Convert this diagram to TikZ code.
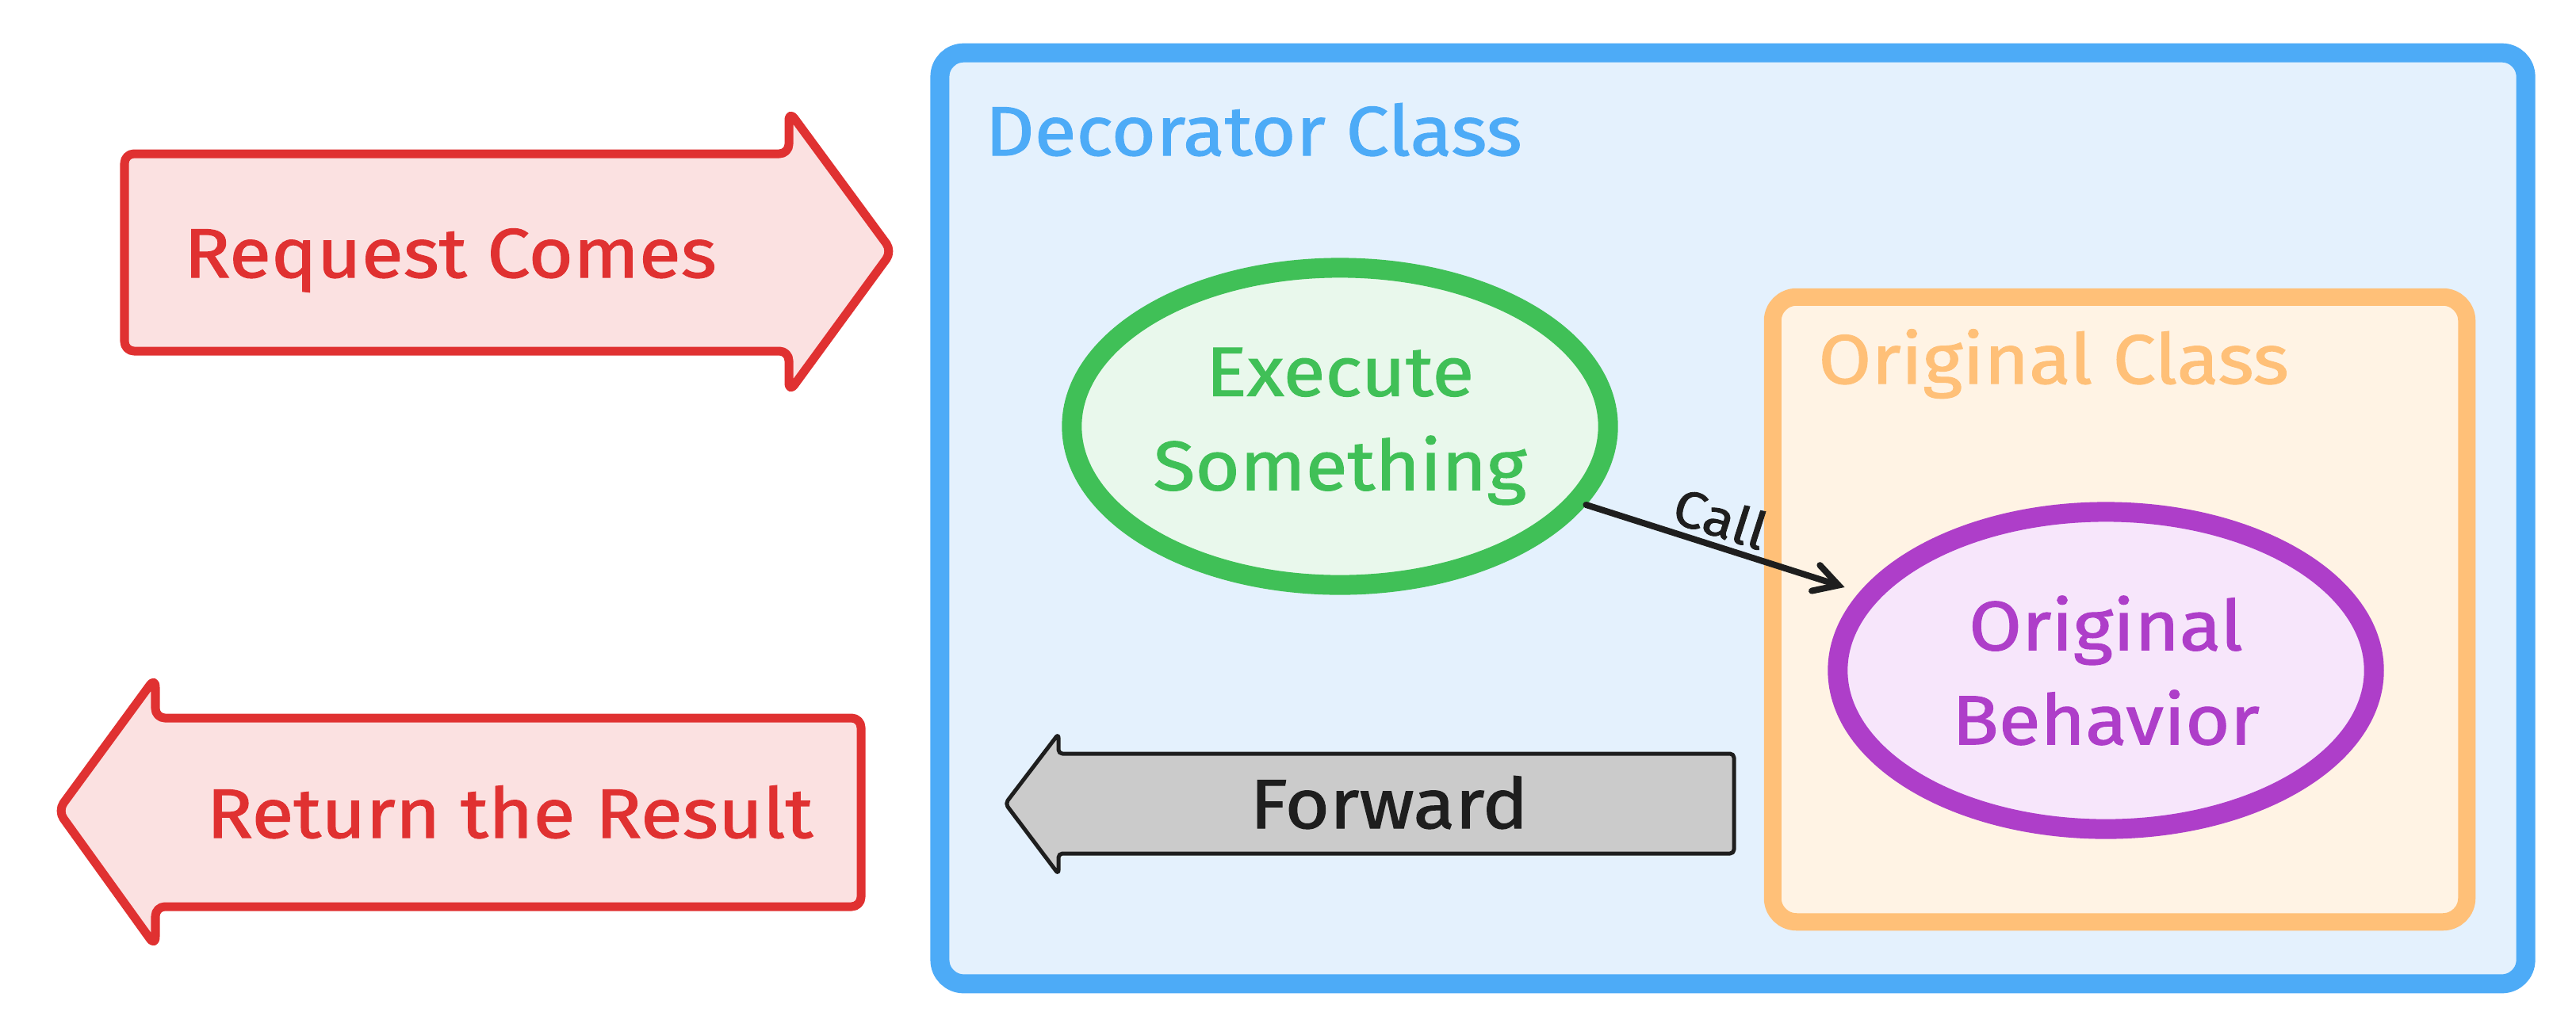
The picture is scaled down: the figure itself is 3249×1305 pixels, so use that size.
\documentclass[tikz,border=0pt]{standalone}
\usepackage{fontspec}
\setmainfont{Fira Sans}[UprightFeatures={FakeBold=1.3}, FakeStretch=1.1]
\usetikzlibrary{shapes.geometric,arrows.meta}

\definecolor{decoblue}{HTML}{4DABF7}
\definecolor{decofill}{HTML}{E4F1FD}
\definecolor{origorange}{HTML}{FFC078}
\definecolor{origfill}{HTML}{FFF3E4}
\definecolor{execgreen}{HTML}{40C057}
\definecolor{execfill}{HTML}{E9F8EC}
\definecolor{behpurple}{HTML}{AE3EC9}
\definecolor{behfill}{HTML}{F7E6FB}
\definecolor{reqred}{HTML}{E03131}
\definecolor{reqfill}{HTML}{FBE1E1}
\definecolor{fwdink}{HTML}{1E1E1E}
\definecolor{fwdfill}{HTML}{CBCBCB}

\begin{document}
\begin{tikzpicture}[x=0.01cm,y=-0.01cm,
  every node/.style={font=\fontsize{25}{33.8}\selectfont},
  classbox/.style={draw, rectangle, rounded corners=0.3cm, line width=0.24cm},
  blob/.style={draw, ellipse, line width=0.25cm, inner sep=0pt,
    minimum width=6.76cm, minimum height=4cm, align=center},
  bigarrow/.style={line width=0.11cm, rounded corners=0.12cm, line join=round},
  callarrow/.style={draw=fwdink, line width=0.08cm, line cap=round,
    -{Straight Barb[length=0.3cm, width=0.34cm, line cap=round]}, shorten >=0.2cm}]

  \useasboundingbox (0,0) rectangle (3249,1305);

  % outer and inner class
  \node[classbox, draw=decoblue, fill=decofill, minimum width=19.99cm, minimum height=11.74cm]
    (deco) at (2185.5,654) {};
  \node[text=decoblue, anchor=base west] (decolabel) at (1230,196) {Decorator Class};
  \node[classbox, draw=origorange, fill=origfill, line width=0.22cm,
    minimum width=8.75cm, minimum height=7.88cm] (orig) at (2673.5,769) {};
  \node[text=origorange, anchor=base west] (origlabel) at (2281,484) {Original Class};

  % the two steps
  \node[blob, draw=execgreen, fill=execfill, text=execgreen] (exec) at (1690,538)
    {Execute\\Something};
  \node[blob, draw=behpurple, fill=behfill, text=behpurple] (beh) at (2656,846)
    {Original\\Behavior};
  \draw[callarrow] (exec) -- node[pos=0.46, above, sloped, text=fwdink, inner sep=2pt,
    font=\fontsize{18.5}{22}\selectfont] (calllabel) {Call} (beh);

  % request and result
  \draw[bigarrow, draw=reqred, fill=reqfill] (157,194) -- (995,194) -- (995,140)
    -- (1125,317) -- (995,495) -- (995,443) -- (157,443) -- cycle;
  \node[text=reqred, anchor=base] (req) at (568,350) {Request Comes};
  \draw[bigarrow, draw=reqred, fill=reqfill] (1086,906) -- (196,906) -- (196,855)
    -- (73,1023) -- (196,1194) -- (196,1144) -- (1086,1144) -- cycle;
  \node[text=reqred, anchor=base] (res) at (643,1057) {Return the Result};

  % forward
  \draw[bigarrow, line width=0.05cm, rounded corners=0.05cm, draw=fwdink, fill=fwdfill]
    (2187,951) -- (1335,951) -- (1335,926) -- (1268,1014) -- (1335,1103)
    -- (1335,1077) -- (2187,1077) -- cycle;
  \node[text=fwdink, anchor=base] (fwd) at (1752,1045) {Forward};
\end{tikzpicture}
\end{document}
